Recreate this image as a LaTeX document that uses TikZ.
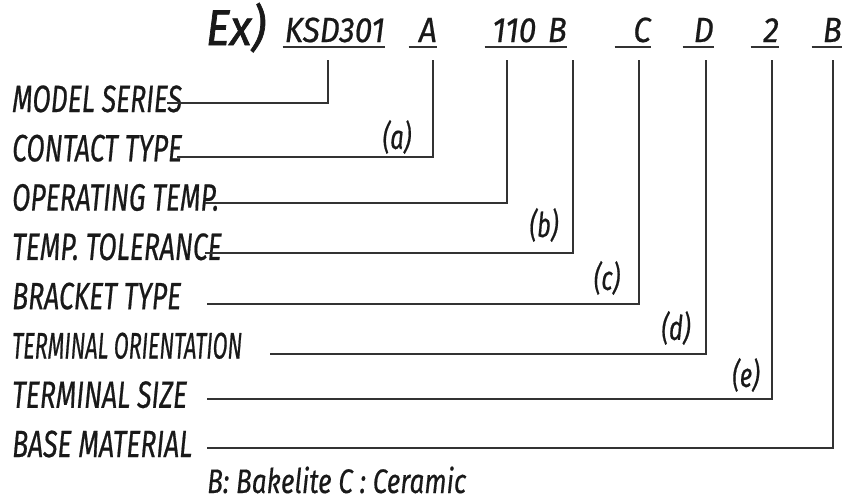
\documentclass[tikz,border=0pt]{standalone}
\usepackage{fontspec}
\setmainfont{Fira Sans}
\newfontfamily\rowfont{Fira Sans}[FakeStretch=0.70, FakeBold=0.5]
\newfontfamily\narrowfont{Fira Sans}[FakeStretch=0.585, FakeBold=0.5]
\newfontfamily\codefont{Fira Sans}[FakeStretch=0.9, FakeBold=0.6]
\newfontfamily\notefont{Fira Sans}[FakeStretch=0.77, FakeBold=0.4]
\newfontfamily\exfont{Fira Sans}[FakeStretch=0.9, FakeBold=1.5]
\usetikzlibrary{positioning}

\begin{document}
\begin{tikzpicture}[x=1pt, y=-1pt, node distance=49.3pt,
    row/.style={anchor=base west, inner sep=0pt, text=black!90,
      font=\rowfont\itshape\fontsize{38}{38}\selectfont},
    code/.style={anchor=base east, inner sep=0pt, text depth=5pt, align=right, text=black!90,
      font=\codefont\itshape\fontsize{35}{35}\selectfont},
    tag/.style={inner sep=0pt, text=black!90, font=\rowfont\itshape\fontsize{34}{34}\selectfont},
    wire/.style={line width=1.2pt, draw=black!80}]
    \useasboundingbox (0,0) rectangle (845,501);

    % the code
    \node (EX) [anchor=base east, inner sep=0pt, text=black!90,
      font=\exfont\itshape\fontsize{50}{50}\selectfont] at (266,45) {Ex)};
    \node (K0) [code, text width=102pt] at (385,42) {KSD301};
    \node (K1) [code, text width=28pt] at (437,42) {A};
    \node (K2) [code, text width=82pt] at (567,42) {110 B};
    \node (K3) [code, text width=36pt] at (651,42) {C};
    \node (K4) [code, text width=31pt] at (714,42) {D};
    \node (K5) [code, text width=28pt] at (779,42) {2};
    \node (K6) [code, text width=30pt] at (842,42) {B};
    \foreach \k in {K0,K1,K2,K3,K4,K5,K6}
      \draw[wire, line width=2.4pt] (\k.south west) -- (\k.south east);

    % the rows
    \node (L0) [row] at (12,112) {MODEL SERIES};
    \node (L1) [below=of L0.base west, row] {CONTACT TYPE};
    \node (L2) [below=of L1.base west, row] {OPERATING TEMP.};
    \node (L3) [below=of L2.base west, row] {TEMP. TOLERANCE};
    \node (L4) [below=of L3.base west, row] {BRACKET TYPE};
    \node (L5) [below=of L4.base west, row,
      font=\narrowfont\itshape\fontsize{37}{37}\selectfont] {TERMINAL ORIENTATION};
    \node (L6) [below=of L5.base west, row] {TERMINAL SIZE};
    \node (L7) [below=of L6.base west, row] {BASE MATERIAL};
    \node (N0) [anchor=base west, inner sep=0pt, text depth=0pt, text=black!90,
      font=\notefont\itshape\fontsize{34}{34}\selectfont] at (207,493) {B: Bakelite C : Ceramic};

    % tops of the leaders
    \coordinate (V0) at (328,60);
    \coordinate (V1) at (433,60);
    \coordinate (V2) at (507,60);
    \coordinate (V3) at (573,60);
    \coordinate (V4) at (639,60);
    \coordinate (V5) at (706,60);
    \coordinate (V6) at (772,60);
    \coordinate (V7) at (833,60);
    % free ends by the rows
    \coordinate (S0) at (167,103);
    \coordinate (S1) at (177,157);
    \coordinate (S2) at (205,203);
    \coordinate (S3) at (205,253);
    \coordinate (S4) at (207,304);
    \coordinate (S5) at (270,354);
    \coordinate (S6) at (207,399);
    \coordinate (S7) at (207,448);
    \foreach \i in {0,...,7}
      \draw[wire] (V\i) |- (S\i);

    \node (a) [tag] at (397,137) {(a)};
    \node (b) [tag] at (544,225) {(b)};
    \node (c) [tag] at (607,278) {(c)};
    \node (d) [tag] at (676,328) {(d)};
    \node (e) [tag] at (746,375) {(e)};
  \end{tikzpicture}
\end{document}
